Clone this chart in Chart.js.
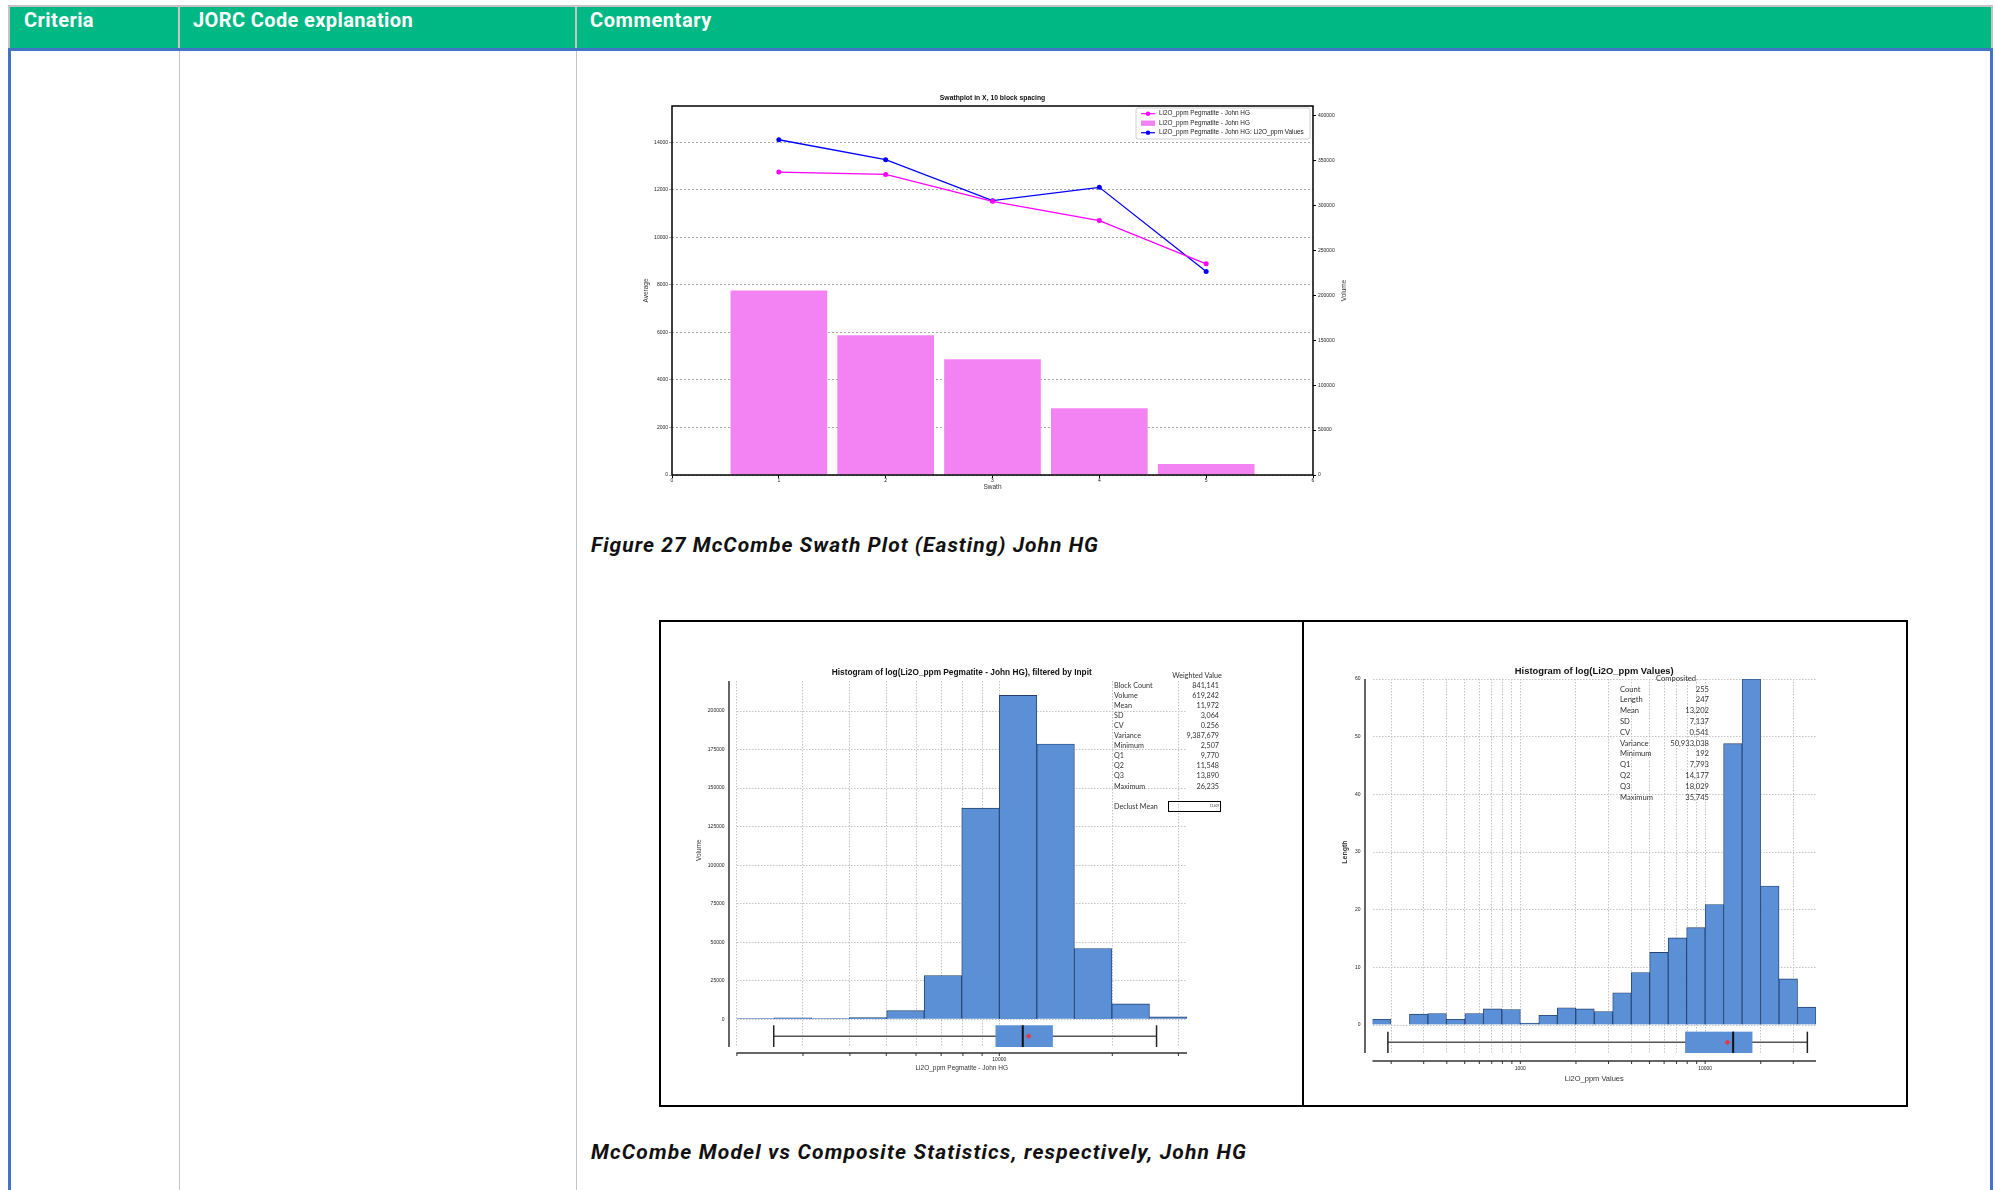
<!DOCTYPE html>
<html>
<head>
<meta charset="utf-8">
<script src="https://cdn.jsdelivr.net/npm/chart.js@4.4.1/dist/chart.umd.min.js"></script>
<style>
body{margin:0;width:1995px;height:1190px;position:relative;background:#fff;overflow:hidden;font-family:"Liberation Sans",Arial,sans-serif}
.a{position:absolute}
.hd{font-family:Roboto,sans-serif;color:#fff;font-weight:700;font-size:20px;line-height:24px;top:8px;white-space:nowrap}
.cap{font-family:Roboto,sans-serif;font-weight:700;font-style:italic;font-size:21px;line-height:26px;color:#111;left:591px;white-space:nowrap}
.st{font-family:Lato,"Open Sans",sans-serif;color:#333;white-space:nowrap}
.st div{position:absolute;line-height:10px}
.st .v{text-align:right}
canvas{position:absolute}
</style>
</head>
<body>
<!-- table frame -->
<div class="a" style="left:8px;top:5px;width:1985px;height:44px;background:#c4c4c4"></div>
<div class="a" style="left:10px;top:7px;width:1981px;height:41px;background:#00b884"></div>
<div class="a" style="left:178px;top:7px;width:2px;height:41px;background:#c4c4c4"></div>
<div class="a" style="left:575px;top:7px;width:2px;height:41px;background:#c4c4c4"></div>
<div class="a" style="left:8px;top:48px;width:1985px;height:3px;background:#4472c4"></div>
<div class="a" style="left:8px;top:48px;width:3px;height:1142px;background:#4472c4"></div>
<div class="a" style="left:1990px;top:48px;width:3px;height:1142px;background:#4472c4"></div>
<div class="a" style="left:179px;top:51px;width:1px;height:1139px;background:#c4c4c4"></div>
<div class="a" style="left:576px;top:51px;width:1px;height:1139px;background:#c4c4c4"></div>
<div class="a hd" data-w="70" style="left:24px">Criteria</div>
<div class="a hd" data-w="220" style="left:193px">JORC Code explanation</div>
<div class="a hd" data-w="122" style="left:590px">Commentary</div>

<canvas id="swath" width="720" height="412" style="left:636px;top:88px"></canvas>
<div class="a cap" data-w="508" style="top:532px">Figure 27 McCombe Swath Plot (Easting) John HG</div>

<div class="a" style="left:659px;top:620px;width:1245px;height:483px;border:2px solid #000"></div>
<div class="a" style="left:1302px;top:620px;width:2px;height:487px;background:#000"></div>
<canvas id="model" width="640" height="483" style="left:661px;top:622px"></canvas>
<canvas id="comp" width="600" height="483" style="left:1305px;top:622px"></canvas>
<div class="a st" id="modelStats" style="left:0;top:0;font-size:7.2px"></div>
<div class="a st" id="compStats" style="left:0;top:0;font-size:7.6px"></div>

<div class="a cap" data-w="656" style="top:1139px">McCombe Model vs Composite Statistics, respectively, John HG</div>

<script>
// ---- swath plot data ----
const swathX = [1, 2, 3, 4, 5];
const swathAvgModel = [12740, 12640, 11510, 10700, 8880];
const swathAvgComp = [14100, 13260, 11540, 12100, 8560];
const swathVolume = [205600, 155600, 128900, 74400, 12200];
const swathXTicks = [0, 1, 2, 3, 4, 5, 6];
const swathLeftTicks = [0, 2000, 4000, 6000, 8000, 10000, 12000, 14000];
const swathRightTicks = [0, 50000, 100000, 150000, 200000, 250000, 300000, 350000, 400000];
const swathLegend = ["Li2O_ppm Pegmatite - John HG", "Li2O_ppm Pegmatite - John HG", "Li2O_ppm Pegmatite - John HG: Li2O_ppm Values"];

// ---- model histogram (log10 bins) ----
const modelBinMid = [3.35, 3.45, 3.55, 3.65, 3.75, 3.85, 3.95, 4.05, 4.15, 4.25, 4.35, 4.45];
const modelVolume = [430, 870, 430, 1080, 5600, 28400, 137000, 210200, 178600, 45900, 10000, 1500];
const modelYTicks = [0, 25000, 50000, 75000, 100000, 125000, 150000, 175000, 200000];
const modelXGrid = [2000, 3000, 4000, 5000, 6000, 7000, 8000, 9000, 10000, 20000, 30000];
const modelXLabelled = [10000];
const modelStatNames = ["Block Count", "Volume", "Mean", "SD", "CV", "Variance", "Minimum", "Q1", "Q2", "Q3", "Maximum"];
const modelStatValues = ["841,141", "619,242", "11,972", "3,064", "0.256", "9,387,679", "2,507", "9,770", "11,548", "13,890", "26,235"];
const modelBox = [2507, 9770, 11548, 13890, 26235, 11972]; // min q1 q2 q3 max mean

// ---- composite histogram (log10 bins) ----
const compBinMid = [2.25, 2.35, 2.45, 2.55, 2.65, 2.75, 2.85, 2.95, 3.05, 3.15, 3.25, 3.35, 3.45, 3.55, 3.65, 3.75, 3.85, 3.95, 4.05, 4.15, 4.25, 4.35, 4.45, 4.55];
const compLength = [1.0, 0, 1.9, 2.0, 1.0, 2.0, 2.8, 2.7, 0.35, 1.7, 3.0, 2.8, 2.35, 5.6, 9.1, 12.6, 15.1, 16.9, 20.9, 48.8, 60, 24.1, 8.0, 3.1];
const compYTicks = [0, 10, 20, 30, 40, 50, 60];
const compXGrid = [200, 300, 400, 500, 600, 700, 800, 900, 1000, 2000, 3000, 4000, 5000, 6000, 7000, 8000, 9000, 10000, 20000, 30000];
const compXLabelled = [1000, 10000];
const compStatNames = ["Count", "Length", "Mean", "SD", "CV", "Variance", "Minimum", "Q1", "Q2", "Q3", "Maximum"];
const compStatValues = ["255", "247", "13,202", "7,137", "0.541", "50,933,038", "192", "7,793", "14,177", "18,029", "35,745"];
const compBox = [192, 7793, 14177, 18029, 35745, 13202];

// stretch header/caption text to the widths measured on the page
document.querySelectorAll("[data-w]").forEach(el => {
  const w = el.getBoundingClientRect().width;
  el.style.letterSpacing = ((+el.dataset.w - w) / el.textContent.length) + "px";
});

Chart.defaults.font.family = '"Liberation Sans", Arial, sans-serif';
Chart.defaults.color = "#222";
const F = (s, b) => (b ? "bold " : "") + s + 'px "Liberation Sans", Arial, sans-serif';
const plain = v => String(v);

function line(ctx, x1, y1, x2, y2){ ctx.beginPath(); ctx.moveTo(x1, y1); ctx.lineTo(x2, y2); ctx.stroke(); }
function vtext(ctx, t, x, y, font){
  ctx.save(); ctx.translate(x, y); ctx.rotate(-Math.PI/2);
  ctx.font = font; ctx.textAlign = "center"; ctx.textBaseline = "middle"; ctx.fillText(t, 0, 0);
  ctx.restore();
}

/* SWATH PLOT */
const swathDecor = {
  id: "swathDecor",
  afterDraw(chart){
    const {ctx, chartArea: a} = chart;
    ctx.save();
    ctx.strokeStyle = "#000"; ctx.lineWidth = 1.5;
    ctx.strokeRect(a.left, a.top, a.right - a.left, a.bottom - a.top);
    ctx.fillStyle = "#111"; ctx.textAlign = "center"; ctx.textBaseline = "middle";
    ctx.font = F(6.8, true);
    ctx.fillText("Swathplot in X, 10 block spacing", (a.left + a.right)/2, a.top - 8);
    ctx.font = F(6.5);
    ctx.fillStyle = "#333";
    ctx.fillText("Swath", (a.left + a.right)/2, a.bottom + 12);
    vtext(ctx, "Average", a.left - 26, (a.top + a.bottom)/2, F(6.5));
    vtext(ctx, "Volume", a.right + 31, (a.top + a.bottom)/2, F(6.5));
    // legend
    const lw = 174, lh = 31, lx = a.right - lw - 3, ly = a.top + 2;
    ctx.fillStyle = "rgba(255,255,255,0.9)"; ctx.strokeStyle = "#d0d0d0"; ctx.lineWidth = 1;
    ctx.beginPath(); ctx.roundRect(lx, ly, lw, lh, 2); ctx.fill(); ctx.stroke();
    const ds = chart.data.datasets;
    [ds[0], ds[2], ds[1]].forEach((d, i) => {
      const cy = ly + 5.7 + i*9.5;
      if(d.type === "line"){
        ctx.strokeStyle = d.borderColor; ctx.lineWidth = 1.2;
        line(ctx, lx + 5, cy, lx + 19, cy);
        ctx.fillStyle = d.borderColor; ctx.beginPath(); ctx.arc(lx + 12, cy, 2.2, 0, Math.PI*2); ctx.fill();
      } else {
        ctx.fillStyle = d.backgroundColor; ctx.fillRect(lx + 5, cy - 2.7, 14, 5.4);
      }
      ctx.fillStyle = "#222"; ctx.font = F(6.4); ctx.textAlign = "left";
      ctx.fillText(swathLegend[i], lx + 23, cy);
    });
    ctx.restore();
  }
};

new Chart(document.getElementById("swath"), {
  type: "bar",
  data: {
    datasets: [
      { type: "line", data: swathX.map((x, i) => ({x, y: swathAvgModel[i]})), yAxisID: "y",
        borderColor: "#ff00ff", backgroundColor: "#ff00ff", borderWidth: 1.3, pointRadius: 2.5, pointBorderWidth: 0, tension: 0 },
      { type: "line", data: swathX.map((x, i) => ({x, y: swathAvgComp[i]})), yAxisID: "y",
        borderColor: "#0000ff", backgroundColor: "#0000ff", borderWidth: 1.3, pointRadius: 2.5, pointBorderWidth: 0, tension: 0 },
      { type: "bar", data: swathX.map((x, i) => ({x, y: swathVolume[i]})), yAxisID: "y1",
        backgroundColor: "#f383f3", barPercentage: 0.905, categoryPercentage: 1 }
    ]
  },
  options: {
    responsive: false, animation: false, devicePixelRatio: 1,
    layout: { padding: { top: 18, left: 0, right: 0, bottom: 0 } },
    plugins: { legend: { display: false }, tooltip: { enabled: false } },
    scales: {
      x: { type: "linear", min: 0, max: 6, offset: false,
        afterBuildTicks: s => { s.ticks = swathXTicks.map(v => ({value: v})); },
        afterFit: s => { s.height = 25; },
        grid: { offset: false, drawOnChartArea: false, tickLength: 3, color: "#000" }, border: { display: false },
        ticks: { font: { size: 5 }, padding: 0, maxRotation: 0, callback: plain } },
      y: { position: "left", min: 0, max: 15520,
        afterBuildTicks: s => { s.ticks = swathLeftTicks.map(v => ({value: v})); },
        afterFit: s => { s.width = 36; },
        grid: { color: "#a8a8a8", tickLength: 3 }, border: { display: false, dash: [2, 2] },
        ticks: { font: { size: 5 }, padding: 1, callback: plain } },
      y1: { position: "right", min: 0, max: 411000,
        afterBuildTicks: s => { s.ticks = swathRightTicks.map(v => ({value: v})); },
        afterFit: s => { s.width = 43; },
        grid: { drawOnChartArea: false, tickLength: 3, color: "#000" }, border: { display: false },
        ticks: { font: { size: 5 }, padding: 2, callback: plain } }
    }
  },
  plugins: [swathDecor]
});

/* HISTOGRAMS */
function makeHist(id, cfg){
  const decor = {
    id: "histDecor",
    afterDraw(chart){
      const {ctx, chartArea: a, scales: {x, y}} = chart;
      const X = v => x.getPixelForValue(Math.log10(v));
      ctx.save();
      ctx.strokeStyle = "#333"; ctx.lineWidth = 1.5;
      line(ctx, a.left - 7.5, a.top, a.left - 7.5, a.bottom);
      line(ctx, a.left, a.bottom + cfg.xGap, a.right, a.bottom + cfg.xGap);
      ctx.lineWidth = 1;
      cfg.grid.forEach(v => line(ctx, X(v), a.bottom + cfg.xGap, X(v), a.bottom + cfg.xGap + 3));
      // box plot
      const [mn, q1, q2, q3, mx, mean] = cfg.box;
      const yt = y.getPixelForValue(cfg.boxTop), yb = y.getPixelForValue(cfg.boxBottom), ym = (yt + yb)/2;
      ctx.strokeStyle = "#555"; ctx.lineWidth = 1.5;
      line(ctx, X(mn), ym, X(mx), ym);
      ctx.strokeStyle = "#222";
      line(ctx, X(mn), yt, X(mn), yb); line(ctx, X(mx), yt, X(mx), yb);
      ctx.fillStyle = "#5b8fd6"; ctx.fillRect(X(q1), yt, X(q3) - X(q1), yb - yt);
      ctx.strokeStyle = "#111"; ctx.lineWidth = 2;
      line(ctx, X(q2), yt, X(q2), yb);
      const mxp = X(mean), d = 2.8;
      ctx.fillStyle = "#e8383d"; ctx.beginPath();
      ctx.moveTo(mxp, ym - d); ctx.lineTo(mxp + d, ym); ctx.lineTo(mxp, ym + d); ctx.lineTo(mxp - d, ym); ctx.closePath(); ctx.fill();
      // titles
      ctx.fillStyle = "#111"; ctx.textAlign = "center"; ctx.textBaseline = "middle";
      ctx.font = F(cfg.titleSize, true);
      ctx.fillText(cfg.title, (a.left + a.right)/2, a.top - 8);
      ctx.font = F(cfg.xTitleSize);
      ctx.fillStyle = "#333";
      ctx.fillText(cfg.xTitle, (a.left + a.right)/2, a.bottom + cfg.xTitleOff);
      vtext(ctx, cfg.yTitle, a.left - cfg.yTitleOff, (a.top + y.getPixelForValue(0))/2, F(cfg.yTitleSize, cfg.yTitleBold));
      ctx.restore();
    }
  };
  return new Chart(document.getElementById(id), {
    type: "bar",
    data: { datasets: [{ data: cfg.mid.map((m, i) => ({x: m, y: cfg.vals[i]})),
      backgroundColor: "#5b8fd6", borderColor: "#25426e", borderWidth: 0.9,
      barThickness: "flex", barPercentage: 1, categoryPercentage: 1 }] },
    options: {
      responsive: false, animation: false, devicePixelRatio: 1,
      layout: { padding: { top: cfg.top, right: cfg.right, left: 0, bottom: 0 } },
      plugins: { legend: { display: false }, tooltip: { enabled: false } },
      scales: {
        x: { type: "linear", min: cfg.xMin, max: cfg.xMax, offset: false,
          afterBuildTicks: s => { s.ticks = cfg.grid.map(v => ({value: Math.log10(v)})); },
          afterFit: s => { s.height = cfg.bottom; },
          grid: { offset: false, drawTicks: false, color: "#c4c4c4" }, border: { display: false, dash: [1.5, 1.5] },
          ticks: { autoSkip: false, maxRotation: 0, padding: cfg.xLabelPad, font: { size: 5 },
            callback: (v, i) => cfg.labelled.includes(cfg.grid[i]) ? String(cfg.grid[i]) : "" } },
        y: { min: cfg.yMin, max: cfg.yMax,
          afterBuildTicks: s => { s.ticks = cfg.yTicks.map(v => ({value: v})); },
          afterFit: s => { s.width = cfg.left; },
          grid: { drawTicks: false, color: "#c4c4c4" }, border: { display: false, dash: [1.5, 1.5] },
          ticks: { padding: 12, font: { size: 5 }, callback: plain } }
      }
    },
    plugins: [decor]
  });
}

makeHist("model", {
  mid: modelBinMid, vals: modelVolume, grid: modelXGrid, labelled: modelXLabelled, yTicks: modelYTicks,
  xMin: 3.3, xMax: 4.5, yMin: -18000, yMax: 219500, box: modelBox, boxTop: -3900, boxBottom: -18000,
  left: 75.5, top: 59, right: 114, bottom: 58, xGap: 6, xLabelPad: 10,
  title: "Histogram of log(Li2O_ppm Pegmatite - John HG), filtered by Inpit", titleSize: 8.3,
  xTitle: "Li2O_ppm Pegmatite - John HG", xTitleSize: 6.5, xTitleOff: 21,
  yTitle: "Volume", yTitleSize: 6.5, yTitleOff: 37.5, yTitleBold: false
});

makeHist("comp", {
  mid: compBinMid, vals: compLength, grid: compXGrid, labelled: compXLabelled, yTicks: compYTicks,
  xMin: 2.2, xMax: 4.6, yMin: -4.85, yMax: 60, box: compBox, boxTop: -1.15, boxBottom: -4.85,
  left: 67.5, top: 57, right: 89, bottom: 52, xGap: 8, xLabelPad: 13,
  title: "Histogram of log(Li2O_ppm Values)", titleSize: 9.4,
  xTitle: "Li2O_ppm Values", xTitleSize: 7.5, xTitleOff: 26,
  yTitle: "Length", yTitleSize: 7, yTitleOff: 27.5, yTitleBold: true
});

/* STATS TABLES */
function statsTable(el, head, names, vals, o){
  let h = `<div style="left:${o.headX - 40}px;width:80px;text-align:center;top:${o.headY - 5}px">${head}</div>`;
  names.forEach((n, i) => {
    const y = o.y0 + i*o.dy - 5;
    h += `<div style="left:${o.labX}px;top:${y}px">${n}</div>`;
    h += `<div class="v" style="left:${o.valR - 60}px;width:60px;top:${y}px">${vals[i]}</div>`;
  });
  el.innerHTML = h + (o.extra || "");
}
statsTable(document.getElementById("modelStats"), "Weighted Value", modelStatNames, modelStatValues,
  { headX: 1197, headY: 676, labX: 1114, valR: 1219, y0: 685.5, dy: 10.1,
    extra: `<div style="left:1114px;top:802px">Declust Mean</div>
            <div style="left:1168px;top:801px;width:51px;height:9px;border:1.5px solid #000;font-size:3px;line-height:9px;text-align:right">11,607&nbsp;</div>` });
statsTable(document.getElementById("compStats"), "Composited", compStatNames, compStatValues,
  { headX: 1676, headY: 678, labX: 1620, valR: 1709, y0: 688.5, dy: 10.8 });
</script>
</body>
</html>
